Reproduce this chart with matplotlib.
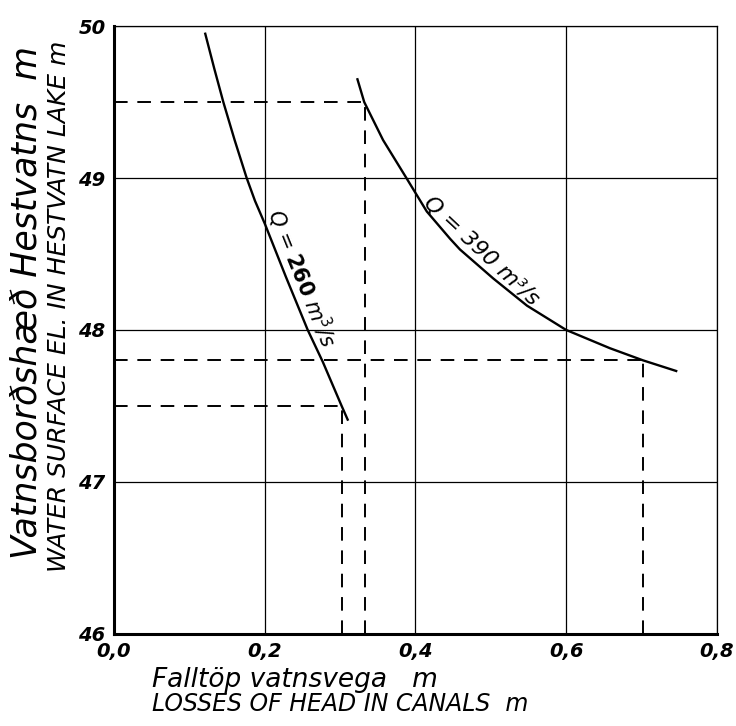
import matplotlib.pyplot as plt

# Q = 260 m3/s curve
q260_x = [0.121, 0.133, 0.145, 0.160, 0.176, 0.187, 0.200, 0.228, 0.257, 0.277, 0.302, 0.310]
q260_y = [49.95, 49.72, 49.50, 49.25, 49.00, 48.85, 48.70, 48.35, 48.00, 47.79, 47.50, 47.41]

# Q = 390 m3/s curve
q390_x = [0.323, 0.332, 0.357, 0.388, 0.415, 0.446, 0.459, 0.503, 0.548, 0.600, 0.658, 0.702, 0.746]
q390_y = [49.65, 49.50, 49.25, 49.00, 48.78, 48.60, 48.53, 48.34, 48.16, 48.00, 47.88, 47.80, 47.73]

# dashed guide lines: (x, y) of each reading point
guide_x = [0.333, 0.702, 0.302]
guide_y = [49.50, 47.80, 47.50]

xticks = [0.0, 0.2, 0.4, 0.6, 0.8]
xtick_labels = ["0,0", "0,2", "0,4", "0,6", "0,8"]
yticks = [46, 47, 48, 49, 50]
ytick_labels = ["46", "47", "48", "49", "50"]

fig = plt.figure(figsize=(7.36, 7.26), dpi=100)
ax = fig.add_axes([0.155, 0.127, 0.819, 0.837])

ax.set_xlim(0, 0.8)
ax.set_ylim(46, 50)

ax.grid(True, color="black", linewidth=0.9)
ax.set_axisbelow(True)

ax.plot(q260_x, q260_y, color="black", linewidth=1.7)
ax.plot(q390_x, q390_y, color="black", linewidth=1.7)

for gx, gy in zip(guide_x, guide_y):
    ax.plot([0, gx], [gy, gy], color="black", linewidth=1.4, dashes=(7, 5))
    ax.plot([gx, gx], [46, gy], color="black", linewidth=1.4, dashes=(7, 5))

ax.text(0.250, 48.34, r"Q = $\mathbf{260}$ m$^3$/s", rotation=-68, fontsize=15,
        style="italic", ha="center", va="center", rotation_mode="anchor")
ax.text(0.488, 48.52, "Q = 390 m³/s", rotation=-43, fontsize=16,
        style="italic", ha="center", va="center", rotation_mode="anchor")

ax.set_xticks(xticks)
ax.set_xticklabels(xtick_labels, fontsize=14, fontweight="bold", style="italic")
ax.set_yticks(yticks)
ax.set_yticklabels(ytick_labels, fontsize=14, fontweight="bold", style="italic")
ax.tick_params(axis="x", length=0, pad=6)
ax.tick_params(axis="y", length=0, pad=6)

for side in ["left", "bottom"]:
    ax.spines[side].set_linewidth(2.2)
ax.spines["top"].set_linewidth(0.9)
ax.spines["right"].set_linewidth(0.9)

fig.text(0.036, 0.584, "Vatnsborðshæð Hestvatns  m", rotation=90, fontsize=25,
         style="italic", ha="center", va="center")
fig.text(0.080, 0.578, "WATER SURFACE EL. IN HESTVATN LAKE m", rotation=90,
         fontsize=18, style="italic", ha="center", va="center")
fig.text(0.206, 0.064, "Falltöp vatnsvega   m", fontsize=19, style="italic",
         ha="left", va="center")
fig.text(0.206, 0.030, "LOSSES OF HEAD IN CANALS  m", fontsize=17, style="italic",
         ha="left", va="center")

fig.savefig("out.png", dpi=100)
